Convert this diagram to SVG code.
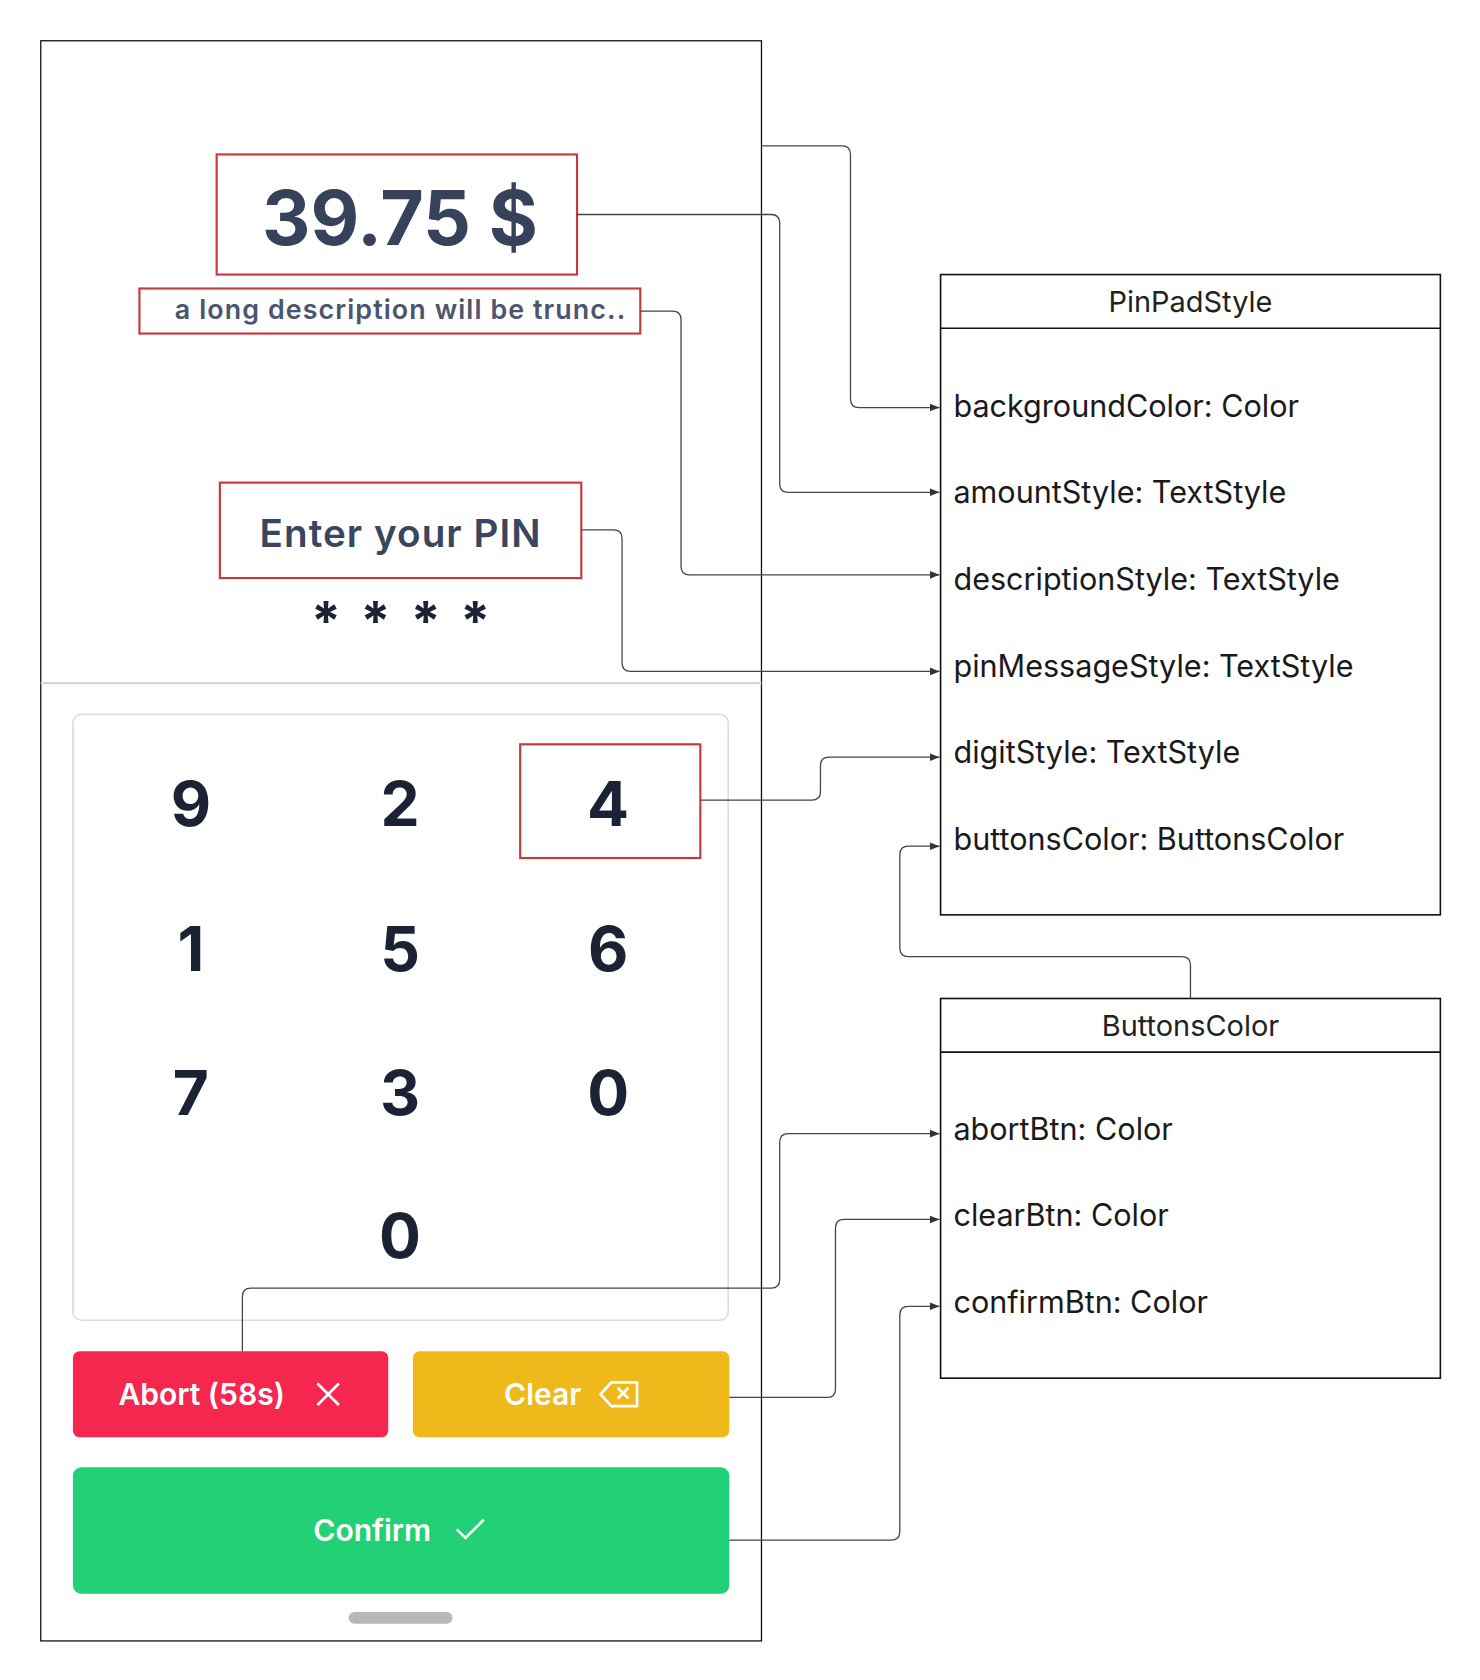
<svg xmlns="http://www.w3.org/2000/svg" width="1480" height="1680" viewBox="0 0 1480 1680">
<style>
.red{fill:none;stroke:#c8383a;stroke-width:2}
.dg{font-family:Inter,"Noto Sans",sans-serif;font-weight:700;font-size:58px;fill:#1b2233;text-anchor:middle}
.ast{font-family:Inter,"Noto Sans",sans-serif;font-weight:700;font-size:50px;fill:#1b2233;text-anchor:middle}
.fld{font-family:Inter,"Noto Sans",sans-serif;font-size:28.5px;fill:#1a1a1a}
.ttl{font-family:Inter,"Noto Sans",sans-serif;font-size:27px;fill:#222;text-anchor:middle}
.bt{font-family:Inter,"Noto Sans",sans-serif;font-size:28px;font-weight:600;fill:#fff}
.cn path{fill:none;stroke:#444;stroke-width:1.2}
</style>
<defs><marker id="a" viewBox="0 0 10 10" refX="10" refY="5" markerWidth="9" markerHeight="9" markerUnits="userSpaceOnUse" orient="auto"><path d="M0,1L10,5L0,9z" fill="#333"/></marker></defs>
<rect width="1480" height="1680" fill="#fff"/>
<g transform="scale(1.0725)">
<g id="phone">
<rect x="38" y="38" width="672" height="1492" fill="#fff" stroke="#111" stroke-width="1.2"/>
<line x1="38" y1="637" x2="710" y2="637" stroke="#d3d9e2" stroke-width="2"/>
<rect x="68" y="666" width="611" height="565" rx="8" fill="none" stroke="#d5dbe3" stroke-width="1.5"/>
<rect x="325" y="1503" width="97" height="11" rx="5.5" fill="#b8b8b8"/>
</g>
<g id="amount"><rect class="red" x="202" y="144" width="336" height="112"/>
<text x="373" y="228" text-anchor="middle" font-family="Inter,'Noto Sans',sans-serif" font-weight="700" font-size="70" fill="#37425a">39.75 $</text></g>
<g id="desc"><rect class="red" x="130" y="269" width="467" height="42"/>
<text x="373" y="297" text-anchor="middle" font-family="Inter,'Noto Sans',sans-serif" font-weight="600" font-size="25" fill="#4a5570" textLength="420" lengthAdjust="spacing">a long description will be trunc..</text></g>
<g id="pin"><rect class="red" x="205" y="450" width="337" height="89"/>
<text x="373" y="510" text-anchor="middle" font-family="Inter,'Noto Sans',sans-serif" font-weight="600" font-size="36" fill="#3a4660" textLength="262" lengthAdjust="spacing">Enter your PIN</text>
<text class="ast" x="304" y="597">*</text><text class="ast" x="350" y="597">*</text><text class="ast" x="397" y="597">*</text><text class="ast" x="443" y="597">*</text></g>
<g id="digits">
<text class="dg" x="178" y="770">9</text><text class="dg" x="373" y="770">2</text><text class="dg" x="567" y="770">4</text>
<text class="dg" x="178" y="905">1</text><text class="dg" x="373" y="905">5</text><text class="dg" x="567" y="905">6</text>
<text class="dg" x="178" y="1040">7</text><text class="dg" x="373" y="1040">3</text><text class="dg" x="567" y="1040">0</text>
<text class="dg" x="373" y="1173">0</text>
<rect class="red" x="485" y="694" width="168" height="106"/>
</g>
<g id="abort"><rect x="68" y="1260" width="294" height="80" rx="6" fill="#f5274f"/>
<text class="bt" x="188" y="1310" text-anchor="middle">Abort (58s)</text>
<path d="M296,1290l20,20M316,1290l-20,20" stroke="#fff" stroke-width="2.5"/></g>
<g id="clear"><rect x="385" y="1260" width="295" height="80" rx="6" fill="#efb91c"/>
<text class="bt" x="506" y="1310" text-anchor="middle">Clear</text>
<path d="M570,1289h24v22h-24l-10,-11z" fill="none" stroke="#fff" stroke-width="2.5" stroke-linejoin="round"/>
<path d="M576,1294l10,10M586,1294l-10,10" stroke="#fff" stroke-width="2.5"/></g>
<g id="confirm"><rect x="68" y="1368" width="612" height="118" rx="8" fill="#22d176"/>
<text class="bt" x="347" y="1437" text-anchor="middle">Confirm</text>
<path d="M426,1426l8,8l17,-17" fill="none" stroke="#fff" stroke-width="2.5"/></g>
<g id="pinpadstyle"><rect x="877" y="256" width="466" height="597" fill="#fff" stroke="#111" stroke-width="1.5"/>
<line x1="877" y1="306" x2="1343" y2="306" stroke="#111" stroke-width="1.5"/>
<text class="ttl" x="1110" y="291">PinPadStyle</text>
<text class="fld" x="889" y="389">backgroundColor: Color</text>
<text class="fld" x="889" y="469">amountStyle: TextStyle</text>
<text class="fld" x="889" y="550">descriptionStyle: TextStyle</text>
<text class="fld" x="889" y="631">pinMessageStyle: TextStyle</text>
<text class="fld" x="889" y="711">digitStyle: TextStyle</text>
<text class="fld" x="889" y="793">buttonsColor: ButtonsColor</text></g>
<g id="buttonscolor"><rect x="877" y="931" width="466" height="354" fill="#fff" stroke="#111" stroke-width="1.5"/>
<line x1="877" y1="981" x2="1343" y2="981" stroke="#111" stroke-width="1.5"/>
<text class="ttl" x="1110" y="966">ButtonsColor</text>
<text class="fld" x="889" y="1063">abortBtn: Color</text>
<text class="fld" x="889" y="1143">clearBtn: Color</text>
<text class="fld" x="889" y="1224">confirmBtn: Color</text></g>
<g class="cn" id="connectors">
<path d="M710,136H785Q793,136 793,144V372Q793,380 801,380H876" marker-end="url(#a)"/>
<path d="M538,200H719Q727,200 727,208V451Q727,459 735,459H876" marker-end="url(#a)"/>
<path d="M597,290H627Q635,290 635,298V528Q635,536 643,536H876" marker-end="url(#a)"/>
<path d="M542,494H572Q580,494 580,502V618Q580,626 588,626H876" marker-end="url(#a)"/>
<path d="M653,746H757Q765,746 765,738V714Q765,706 773,706H876" marker-end="url(#a)"/>
<path d="M1110,931V900Q1110,892 1102,892H847Q839,892 839,884V797Q839,789 847,789H876" marker-end="url(#a)"/>
<path d="M226,1260V1209Q226,1201 234,1201H719Q727,1201 727,1193V1065Q727,1057 735,1057H876" marker-end="url(#a)"/>
<path d="M680,1303H771Q779,1303 779,1295V1145Q779,1137 787,1137H876" marker-end="url(#a)"/>
<path d="M680,1436H831Q839,1436 839,1428V1226Q839,1218 847,1218H876" marker-end="url(#a)"/>
</g>
</g>
</svg>
